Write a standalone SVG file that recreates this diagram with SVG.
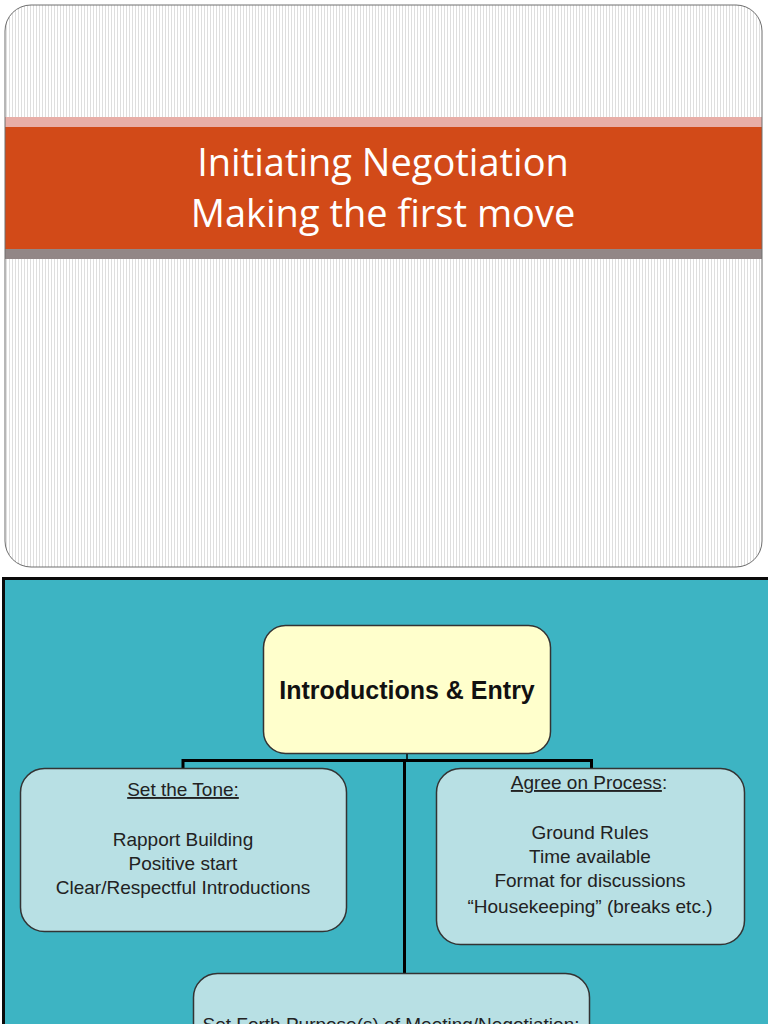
<svg xmlns="http://www.w3.org/2000/svg" width="768" height="1024" viewBox="0 0 768 1024">
<defs>
<pattern id="stripes" width="3" height="10" patternUnits="userSpaceOnUse">
<rect width="3" height="10" fill="#ffffff"/>
<rect x="0" width="1" height="10" fill="#dedede"/>
</pattern>
<clipPath id="slideClip"><rect x="5" y="5" width="757" height="562" rx="26"/></clipPath>
<style>
.title{font-family:"Open Sans","Liberation Sans",sans-serif;font-size:38px;fill:#ffffff;text-anchor:middle}
.node{stroke:#333333;stroke-width:1.5}
.sub{fill:#b8e0e4}
.txt{font-family:"Liberation Sans",Arial,sans-serif;font-size:19px;fill:#222222;text-anchor:middle}
.head{font-family:"Liberation Sans",Arial,sans-serif;font-size:25px;font-weight:bold;fill:#111111;text-anchor:middle}
.conn{stroke:#000000;fill:none}
</style>
</defs>
<rect width="768" height="1024" fill="#ffffff"/>
<g id="title-slide">
<rect x="5" y="5" width="757" height="562" rx="26" fill="url(#stripes)"/>
<g clip-path="url(#slideClip)">
<rect x="0" y="117" width="768" height="10" fill="#e8aea7"/>
<rect x="0" y="127" width="768" height="122" fill="#d24a18"/>
<rect x="0" y="249" width="768" height="10" fill="#928787"/>
</g>
<rect x="5" y="5" width="757" height="562" rx="26" fill="none" stroke="#6e6e6e" stroke-width="1"/>
<text class="title" x="383" y="176">Initiating Negotiation</text>
<text class="title" x="383" y="227">Making the first move</text>
</g>
<g id="chart-slide">
<rect x="2" y="577" width="768" height="450" fill="#3db4c3"/>
<path d="M3.5 1024 V578.5 H768" fill="none" stroke="#0a0a0a" stroke-width="3"/>
</g>
<g id="connectors">
<line class="conn" x1="407" y1="753" x2="407" y2="760" stroke-width="1.5"/>
<path class="conn" d="M183 768 V760.5 H591.5 V768" stroke-width="3"/>
<line class="conn" x1="404.5" y1="760" x2="404.5" y2="973" stroke-width="3"/>
</g>
<g id="node-intro">
<rect class="node" x="263.5" y="625.5" width="287" height="128" rx="22" fill="#ffffcc"/>
<text class="head" x="407" y="699">Introductions &amp; Entry</text>
</g>
<g id="node-tone">
<rect class="node sub" x="20.5" y="768.5" width="326" height="163" rx="24"/>
<text class="txt" x="183" y="796" text-decoration="underline">Set the Tone:</text>
<text class="txt" x="183" y="846">Rapport Building</text>
<text class="txt" x="183" y="870">Positive start</text>
<text class="txt" x="183" y="894">Clear/Respectful Introductions</text>
</g>
<g id="node-process">
<rect class="node sub" x="436.5" y="768.5" width="308" height="176" rx="24"/>
<text class="txt" x="589" y="789"><tspan text-decoration="underline">Agree on Process</tspan>:</text>
<text class="txt" x="590" y="839">Ground Rules</text>
<text class="txt" x="590" y="863">Time available</text>
<text class="txt" x="590" y="887">Format for discussions</text>
<text class="txt" x="590" y="913">“Housekeeping” (breaks etc.)</text>
</g>
<g id="node-purpose">
<rect class="node sub" x="193.5" y="973.5" width="396" height="90" rx="24"/>
<text class="txt" x="391" y="1031" text-decoration="underline">Set Forth Purpose(s) of Meeting/Negotiation:</text>
</g>
</svg>
